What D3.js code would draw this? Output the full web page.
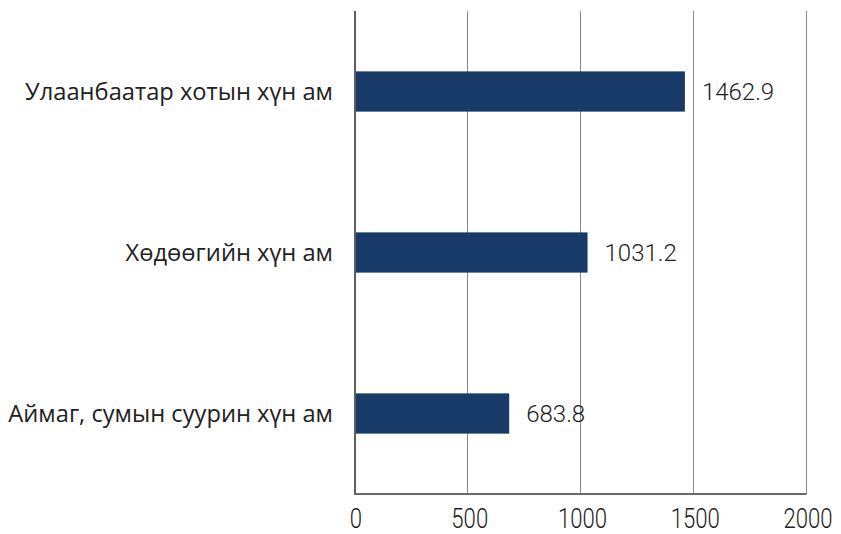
<!DOCTYPE html>
<html><head><meta charset="utf-8">
<script src="https://cdn.jsdelivr.net/npm/d3@7"></script>
<style>body{margin:0;background:#fff}svg{display:block}</style>
</head><body>
<svg id="c" width="841" height="534"></svg>
<script>
const categories = ["Улаанбаатар хотын хүн ам", "Хөдөөгийн хүн ам", "Аймаг, сумын суурин хүн ам"];
const values = [1462.9, 1031.2, 683.8];
const valueLabels = ["1462.9", "1031.2", "683.8"];
const ticks = [0, 500, 1000, 1500, 2000];

const svg = d3.select("#c");
const m = {left: 355, right: 35, top: 11, bottom: 40};
const W = 841, H = 534;
const x = d3.scaleLinear().domain([0, 2000]).range([m.left, W - m.right]);
const y = d3.scaleBand().domain(categories).range([m.top, H - m.bottom]).paddingInner(0.75).paddingOuter(0.375);

// gridlines
svg.append("g").selectAll("line").data(ticks.slice(1)).join("line")
  .attr("x1", d => x(d)).attr("x2", d => x(d))
  .attr("y1", m.top).attr("y2", H - m.bottom)
  .attr("stroke", "#8a8a8a").attr("stroke-width", 1).attr("shape-rendering", "crispEdges");

// bars
svg.append("g").selectAll("rect").data(categories).join("rect")
  .attr("x", x(0)).attr("y", d => y(d))
  .attr("width", (d, i) => x(values[i]) - x(0))
  .attr("height", y.bandwidth())
  .attr("fill", "#183a69");

// zero axis line and bottom axis
svg.append("line").attr("x1", x(0)).attr("x2", x(0)).attr("y1", m.top).attr("y2", H - m.bottom + 1)
  .attr("stroke", "#5e5e5e").attr("stroke-width", 2);
svg.append("line").attr("x1", x(0) - 1).attr("x2", x(2000) + 0.5).attr("y1", H - m.bottom).attr("y2", H - m.bottom)
  .attr("stroke", "#6a6a6a").attr("stroke-width", 2);

// tick labels
const xAxis = d3.axisBottom(x).tickValues(ticks).tickSize(0).tickFormat(d3.format("d"));
const gx = svg.append("g").attr("transform", `translate(0,${H - m.bottom})`).call(xAxis);
gx.select(".domain").remove();
gx.selectAll("text")
  .attr("font-family", "Roboto, sans-serif").attr("font-size", 27).attr("fill", "#222")
  .attr("font-weight", 300)
  .attr("dy", null).attr("y", 34)
  .attr("transform", "scale(0.82,1)");
gx.selectAll(".tick").each(function(d) {
  d3.select(this).attr("transform", `translate(${x(d) + (d === 0 ? 1 : 2)},0)`);
});

// category labels
svg.append("g").selectAll("text").data(categories).join("text")
  .attr("x", 333).attr("y", d => y(d) + y.bandwidth() / 2)
  .attr("dy", "0.35em").attr("text-anchor", "end")
  .attr("font-family", "'Open Sans', sans-serif").attr("font-size", 23.7).attr("fill", "#222")
  .text(d => d);

// value labels
svg.append("g").selectAll("text").data(categories).join("text")
  .attr("x", (d, i) => x(values[i]) + 17).attr("y", d => y(d) + y.bandwidth() / 2)
  .attr("dy", "0.36em")
  .attr("font-family", "Roboto, sans-serif").attr("font-size", 24).attr("font-weight", 300).attr("fill", "#222")
  .text((d, i) => valueLabels[i]);
</script>
</body></html>
